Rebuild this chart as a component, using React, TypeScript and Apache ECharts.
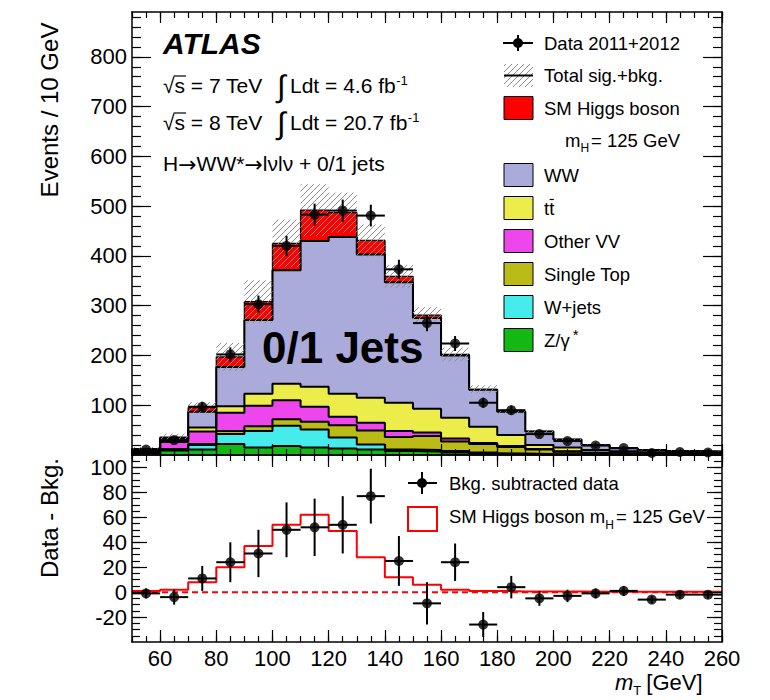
import React, { useEffect, useRef } from "react";
import * as echarts from "echarts";

// ---------------- data ----------------
const binLow = [50, 60, 70, 80, 90, 100, 110, 120, 130, 140, 150, 160, 170, 180, 190, 200, 210, 220, 230, 240, 250];
const binHigh = [60, 70, 80, 90, 100, 110, 120, 130, 140, 150, 160, 170, 180, 190, 200, 210, 220, 230, 240, 250, 260];

// stacked components, bottom -> top
const zGamma = [4, 9, 11, 22, 15, 18, 15, 13, 11, 8, 7, 5, 3, 2, 1, 1, 0.5, 0.5, 0.3, 0.3, 0.2];
const wJets = [2, 2, 9, 20, 33, 41, 36, 22, 10, 3, 3, 3, 2, 1, 1, 0.5, 0.5, 0.3, 0.2, 0.2, 0.3];
const singleTop = [0.5, 1, 2, 6, 10, 13, 16, 25, 28, 25, 28, 19, 17, 13, 9, 5, 3, 2, 1.5, 1, 1];
const otherVV = [1.5, 14, 25, 37, 41, 38, 30, 17, 16, 12, 7, 6, 2, 2, 1, 1, 1, 0.7, 0.5, 0.5, 0.5];
const ttbar = [1, 2, 8, 13, 24, 33, 40, 46, 50, 57, 48, 42, 33, 22, 8, 7.5, 5, 4, 3, 2.5, 2];
const ww = [3, 6, 32, 79, 148, 228, 293, 315, 288, 242, 182, 125, 74, 47, 27, 16, 10, 6, 4.5, 3.5, 3];
const higgs = [1, 2, 8, 20, 37, 54, 62, 49, 28, 12, 6, 2, 1, 0.6, 0.5, 0.5, 0.4, 0.3, 0.3, 0.3, 0.3];

// uncertainty on total sig.+bkg. (half width of hatched band)
const totalErr = [3, 7, 11, 28, 43, 48, 52, 40, 32, 23, 16, 14, 8, 5, 3, 2.5, 2, 1.5, 1, 1, 1];

// data
const dataCounts = [11, 30, 97, 202, 303, 420, 483, 491, 481, 373, 265, 224, 105, 90, 42, 28, 19, 14, 4, 6, 5];
const dataErr = [3.3, 5.5, 9.8, 14.2, 17.4, 20.5, 22, 22.2, 21.9, 19.3, 16.3, 15, 10.2, 9.5, 6.5, 5.3, 4.4, 3.7, 2, 2.4, 2.2];

// lower panel: data - bkg
const diffValues = [-1, -4, 11, 24, 31, 50, 52, 54, 77, 25, -9, 24, -26, 4, -5, -3, -1, 1, -6, -2, -2];
const diffErr = [4, 6, 10, 16, 19, 22, 23, 23, 22, 20, 17, 15, 10, 9, 6, 5, 4, 4, 3, 3, 3];

// tick labels
const xTickLabels = [60, 80, 100, 120, 140, 160, 180, 200, 220, 240, 260];
const yTickLabelsTop = [100, 200, 300, 400, 500, 600, 700, 800];
const yTickLabelsBottom = [-20, 0, 20, 40, 60, 80, 100];

// ---------------- layout / style ----------------
const FONT = "'Liberation Sans', Arial, Helvetica, sans-serif";
const SYM_FONT = "'DejaVu Sans', sans-serif";
const X_MIN = 50, X_MAX = 260;
const TOP_MIN = 0, TOP_MAX = 890;
const BOT_MIN = -40, BOT_MAX = 110;

const COLORS = {
  z: "#13b813",
  wj: "#46ecec",
  st: "#bbbb17",
  vv: "#ec46ec",
  tt: "#ecec4a",
  ww: "#aaaadb",
  h: "#ff0000",
};

function steps(a: number, b: number, s: number) {
  const r: number[] = [];
  for (let v = a; v <= b + 1e-9; v += s) r.push(Math.round(v * 1000) / 1000);
  return r;
}

function hatchSegments(xL: number, xR: number, yT: number, yB: number, s: number) {
  const segs: number[][] = [];
  const cStart = Math.ceil((xL + yT) / s) * s;
  for (let c = cStart; c <= xR + yB; c += s) {
    const xa = Math.max(xL, c - yB);
    const xb = Math.min(xR, c - yT);
    if (xb > xa + 0.2) segs.push([xa, c - xa, xb, c - xb]);
  }
  return segs;
}

function axisGroup(
  kind: "x" | "y",
  gridIndex: number,
  min: number,
  max: number,
  majors: number[],
  minors: number[],
  majorLen: number,
  minorLen: number,
  labelValues: number[] | null
) {
  const sides = kind === "x" ? ["bottom", "top"] : ["left", "right"];
  const out: any[] = [];
  sides.forEach((side, si) => {
    [true, false].forEach((isMajor) => {
      out.push({
        type: "value",
        gridIndex,
        min,
        max,
        position: side,
        z: 10,
        axisLine: { show: isMajor, onZero: false, lineStyle: { color: "#000", width: 1.5 } },
        axisTick: {
          show: true,
          inside: true,
          length: isMajor ? majorLen : minorLen,
          customValues: isMajor ? majors : minors,
          lineStyle: { color: "#000", width: 1.2 },
        },
        axisLabel: {
          show: !!labelValues && si === 0 && isMajor,
          customValues: labelValues || [],
          color: "#000",
          fontFamily: FONT,
          fontSize: 22,
          lineHeight: 22,
          margin: 5,
          formatter: (v: number) => String(v),
        },
        minorTick: { show: false },
        splitLine: { show: false },
        splitArea: { show: false },
      });
    });
  });
  return out;
}

let _ctx: CanvasRenderingContext2D | null = null;
function measure(text: string, size: number, weight = "normal", style = "normal", family = FONT) {
  if (!_ctx) _ctx = document.createElement("canvas").getContext("2d")!;
  _ctx.font = `${style} ${weight} ${size}px ${family}`;
  return _ctx.measureText(text).width;
}

function T(x: number, y: number, text: string, size: number, extra: any = {}) {
  return {
    type: "text",
    x,
    y,
    z: 100,
    silent: true,
    style: {
      text,
      fontSize: size,
      fontFamily: FONT,
      fill: "#000",
      textAlign: "left",
      textVerticalAlign: "middle",
      align: "left",
      verticalAlign: "middle",
      ...extra,
    },
  };
}

function L(x1: number, y1: number, x2: number, y2: number, stroke = "#000", lineWidth = 2) {
  return { type: "line", z: 100, silent: true, shape: { x1, y1, x2, y2 }, style: { stroke, lineWidth } };
}

function buildOption() {
  const n = binLow.length;
  const centers = binLow.map((lo, i) => (lo + binHigh[i]) / 2);

  const comps = [
    { values: zGamma, color: COLORS.z },
    { values: wJets, color: COLORS.wj },
    { values: singleTop, color: COLORS.st },
    { values: otherVV, color: COLORS.vv },
    { values: ttbar, color: COLORS.tt },
    { values: ww, color: COLORS.ww },
    { values: higgs, color: COLORS.h },
  ];

  const staircase = (vals: number[], closed: boolean) => {
    const pts: number[][] = [];
    if (closed) pts.push([binLow[0], 0]);
    for (let i = 0; i < n; i++) {
      pts.push([binLow[i], vals[i]]);
      pts.push([binHigh[i], vals[i]]);
    }
    if (closed) pts.push([binHigh[n - 1], 0]);
    return pts;
  };

  const series: any[] = [];
  let base = new Array(n).fill(0);
  comps.forEach((c, k) => {
    const lowArr = base.slice();
    const highArr = base.map((b: number, i: number) => b + c.values[i]);
    series.push({
      type: "custom",
      xAxisIndex: 0,
      yAxisIndex: 0,
      z: 2,
      clip: true,
      silent: true,
      data: binLow.map((lo, i) => [lo, binHigh[i], lowArr[i], highArr[i]]),
      renderItem: (_p: any, api: any) => {
        const a = api.coord([api.value(0), api.value(3)]);
        const b = api.coord([api.value(1), api.value(2)]);
        return {
          type: "rect",
          shape: { x: a[0], y: a[1], width: b[0] - a[0] + 0.6, height: b[1] - a[1] },
          style: { fill: c.color, stroke: null },
        };
      },
    });
    series.push({
      type: "line",
      xAxisIndex: 0,
      yAxisIndex: 0,
      z: 3,
      symbol: "none",
      silent: true,
      data: staircase(highArr, true),
      lineStyle: { color: "#000", width: k === 6 ? 1.3 : 2 },
    });
    base = highArr;
  });
  const total = base;

  // hatched uncertainty band
  series.push({
    type: "custom",
    xAxisIndex: 0,
    yAxisIndex: 0,
    z: 4,
    clip: true,
    silent: true,
    data: binLow.map((lo, i) => [lo, binHigh[i], Math.max(0, total[i] - totalErr[i]), total[i] + totalErr[i]]),
    renderItem: (_p: any, api: any) => {
      const a = api.coord([api.value(0), api.value(3)]);
      const b = api.coord([api.value(1), api.value(2)]);
      const segs = hatchSegments(a[0], b[0], a[1], b[1], 6);
      return {
        type: "group",
        children: segs.map((s) => ({
          type: "line",
          shape: { x1: s[0], y1: s[1], x2: s[2], y2: s[3] },
          style: { stroke: "#8c8c8c", lineWidth: 1 },
        })),
      };
    },
  });

  const errRender = (_p: any, api: any) => {
    const lo = api.value(0), hi = api.value(1), c = api.value(2), v = api.value(3), e = api.value(4);
    const a = api.coord([c, v - e]);
    const b = api.coord([c, v + e]);
    const l = api.coord([lo, v]);
    const r = api.coord([hi, v]);
    return {
      type: "group",
      children: [
        { type: "line", shape: { x1: a[0], y1: a[1], x2: b[0], y2: b[1] }, style: { stroke: "#000", lineWidth: 2 } },
        { type: "line", shape: { x1: l[0], y1: l[1], x2: r[0], y2: r[1] }, style: { stroke: "#000", lineWidth: 2 } },
      ],
    };
  };

  // data top
  series.push({
    type: "custom",
    xAxisIndex: 0,
    yAxisIndex: 0,
    z: 5,
    clip: true,
    silent: true,
    data: binLow.map((lo, i) => [lo, binHigh[i], centers[i], dataCounts[i], dataErr[i]]),
    renderItem: errRender,
  });
  series.push({
    type: "scatter",
    xAxisIndex: 0,
    yAxisIndex: 0,
    z: 6,
    silent: true,
    symbol: "circle",
    symbolSize: 10,
    itemStyle: { color: "#000" },
    data: centers.map((c, i) => [c, dataCounts[i]]),
  });

  // bottom panel
  series.push({
    type: "line",
    xAxisIndex: 4,
    yAxisIndex: 4,
    z: 3,
    symbol: "none",
    silent: true,
    data: [[X_MIN, 0], [X_MAX, 0]],
    lineStyle: { color: "#ff0000", width: 2, type: [6, 4] },
  });
  series.push({
    type: "line",
    xAxisIndex: 4,
    yAxisIndex: 4,
    z: 4,
    symbol: "none",
    silent: true,
    data: staircase(higgs, false),
    lineStyle: { color: "#ff0000", width: 2 },
  });
  series.push({
    type: "custom",
    xAxisIndex: 4,
    yAxisIndex: 4,
    z: 5,
    clip: true,
    silent: true,
    data: binLow.map((lo, i) => [lo, binHigh[i], centers[i], diffValues[i], diffErr[i]]),
    renderItem: errRender,
  });
  series.push({
    type: "scatter",
    xAxisIndex: 4,
    yAxisIndex: 4,
    z: 6,
    silent: true,
    symbol: "circle",
    symbolSize: 10,
    itemStyle: { color: "#000" },
    data: centers.map((c, i) => [c, diffValues[i]]),
  });

  // axes
  const xMajors = steps(60, 260, 20);
  const xMinors = steps(50, 260, 5);
  const xAxis = [
    ...axisGroup("x", 0, X_MIN, X_MAX, xMajors, xMinors, 11, 6, null),
    ...axisGroup("x", 1, X_MIN, X_MAX, xMajors, xMinors, 12, 6, xTickLabels),
  ];
  const yAxis = [
    ...axisGroup("y", 0, TOP_MIN, TOP_MAX, steps(100, 800, 100), steps(20, 880, 20), 19, 9, yTickLabelsTop),
    ...axisGroup("y", 1, BOT_MIN, BOT_MAX, steps(-20, 100, 20), steps(-35, 105, 5), 15, 8, yTickLabelsBottom),
  ];

  // ---------- graphics: texts and legends ----------
  const g: any[] = [];
  // ATLAS block
  g.push(T(163, 43, "ATLAS", 30, { fontWeight: "bold", fontStyle: "italic" }));
  const sz = 21;
  const wRoot = measure("\u221A", sz);
  const lumiLine = (y: number, energy: string, lumi: string) => {
    g.push(T(163, y, "\u221A", sz));
    g.push(T(163 + wRoot, y, "s = " + energy + " TeV", sz));
    g.push(L(163 + wRoot - 1, y - 9, 163 + wRoot + measure("s", sz) + 1, y - 9, "#000", 1.2));
    g.push(T(277, y + 1, "\u222B", 31));
    const txt = "Ldt = " + lumi + " fb";
    g.push(T(290, y, txt, sz));
    g.push(T(290 + measure(txt, sz) + 0.5, y - 5, "-1", 13));
  };
  lumiLine(85, "7", "4.6");
  lumiLine(122, "8", "20.7");
  // decay line with long arrows
  const parts: { t: string; arrow?: boolean }[] = [
    { t: "H" },
    { t: "\u2192", arrow: true },
    { t: "WW*" },
    { t: "\u2192", arrow: true },
    { t: "l\u03BDl\u03BD + 0/1 jets" },
  ];
  let px = 163;
  parts.forEach((p) => {
    if (p.arrow) {
      g.push(T(px, 164, p.t, 22, { fontFamily: SYM_FONT }));
      px += measure(p.t, 22, "normal", "normal", SYM_FONT);
    } else {
      g.push(T(px, 163, p.t, sz));
      px += measure(p.t, sz);
    }
  });
  g.push(T(262, 347, "0/1 Jets", 44, { fontWeight: "bold" }));

  // right legend
  const lx = 504, lw = 29, lh = 23, tx = 544, ls = 18.5;
  // data marker
  g.push(L(503, 43, 533, 43));
  g.push(L(518, 35, 518, 51));
  g.push({ type: "circle", z: 100, silent: true, shape: { cx: 518, cy: 43, r: 5 }, style: { fill: "#000" } });
  g.push(T(tx, 43, "Data 2011+2012", ls));
  // hatch marker
  hatchSegments(lx, lx + lw, 64, 87, 6).forEach((s) => g.push(L(s[0], s[1], s[2], s[3], "#8c8c8c", 1)));
  g.push(L(lx, 75.5, lx + lw, 75.5, "#000", 2));
  g.push(T(tx, 75, "Total sig.+bkg.", ls));
  // boxes
  const box = (y: number, fill: string) =>
    g.push({ type: "rect", z: 100, silent: true, shape: { x: lx, y: y - lh / 2, width: lw, height: lh }, style: { fill, stroke: "#000", lineWidth: 1 } });
  box(108, COLORS.h);
  g.push(T(tx, 108, "SM Higgs boson", ls));
  const wm = measure("m", ls);
  g.push(T(565, 140, "m", ls));
  g.push(T(565 + wm, 148, "H", 12));
  g.push(T(565 + wm + measure("H", 12) + 2, 140, "= 125 GeV", ls));
  box(175, COLORS.ww);
  g.push(T(tx, 175, "WW", ls));
  box(208, COLORS.tt);
  g.push(T(tx, 208, "tt", ls));
  const wt = measure("t", ls);
  g.push(L(tx + wt + 0.5, 199.5, tx + 2 * wt - 0.5, 199.5, "#000", 1.2));
  box(241, COLORS.vv);
  g.push(T(tx, 241, "Other VV", ls));
  box(274, COLORS.st);
  g.push(T(tx, 274, "Single Top", ls));
  box(307, COLORS.wj);
  g.push(T(tx, 307, "W+jets", ls));
  box(340, COLORS.z);
  g.push(T(tx, 340, "Z/\u03B3", ls));
  g.push(T(tx + measure("Z/\u03B3", ls) + 3, 334, "*", 15));

  // lower legend
  g.push(L(408, 483, 437, 483));
  g.push(L(422, 472, 422, 494));
  g.push({ type: "circle", z: 100, silent: true, shape: { cx: 422, cy: 483, r: 5 }, style: { fill: "#000" } });
  g.push(T(449, 483, "Bkg. subtracted data", ls));
  g.push({ type: "rect", z: 100, silent: true, shape: { x: 408, y: 507, width: 29, height: 24 }, style: { fill: "none", stroke: "#ff0000", lineWidth: 2 } });
  const t1 = "SM Higgs boson m";
  const w1 = measure(t1, ls);
  g.push(T(449, 516, t1, ls));
  g.push(T(449 + w1, 525, "H", 12));
  g.push(T(449 + w1 + measure("H", 12) + 2, 516, "= 125 GeV", ls));

  // axis titles
  g.push({
    type: "text", z: 100, silent: true, x: 49, y: 110, rotation: Math.PI / 2,
    style: { text: "Events / 10 GeV", fontSize: 24, fontFamily: FONT, fill: "#000", textAlign: "center", textVerticalAlign: "middle", align: "center", verticalAlign: "middle" },
  });
  g.push({
    type: "text", z: 100, silent: true, x: 49, y: 518, rotation: Math.PI / 2,
    style: { text: "Data - Bkg.", fontSize: 24, fontFamily: FONT, fill: "#000", textAlign: "center", textVerticalAlign: "middle", align: "center", verticalAlign: "middle" },
  });
  const wmT = measure("m", 22, "normal", "italic");
  g.push(T(615, 682, "m", 22, { fontStyle: "italic" }));
  g.push(T(615 + wmT, 690, "T", 13));
  g.push(T(615 + wmT + measure("T", 13) + 5, 682, "[GeV]", 22));

  return {
    animation: false,
    backgroundColor: "#fff",
    grid: [
      { left: 132, top: 12, width: 590, height: 443, containLabel: false, outerBoundsMode: "none" },
      { left: 132, top: 455, width: 590, height: 187, containLabel: false, outerBoundsMode: "none" },
    ],
    xAxis,
    yAxis,
    series,
    graphic: { elements: g },
  };
}

export default function App() {
  const ref = useRef<HTMLDivElement>(null);
  useEffect(() => {
    document.body.style.margin = "0";
    const chart = echarts.init(ref.current!, undefined, { renderer: "svg" });
    chart.setOption(buildOption() as any);
    return () => chart.dispose();
  }, []);
  return <div ref={ref} style={{ width: 770, height: 700 }} />;
}
